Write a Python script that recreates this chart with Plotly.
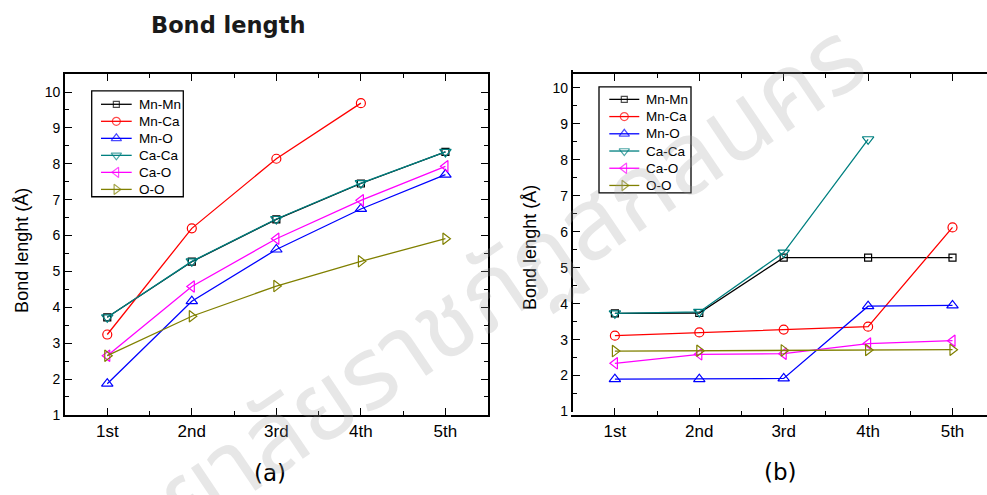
import plotly.graph_objects as go

categories = ["1st", "2nd", "3rd", "4th", "5th"]
series_names = ["Mn-Mn", "Mn-Ca", "Mn-O", "Ca-Ca", "Ca-O", "O-O"]

# Panel (a)
a_mn_mn = [3.72, 5.27, 6.45, 7.45, 8.33]
a_mn_ca = [3.24, 6.20, 8.14, 9.69, None]
a_mn_o = [1.87, 4.17, 5.61, 6.74, 7.70]
a_ca_ca = [3.72, 5.28, 6.46, 7.46, 8.33]
a_ca_o = [2.65, 4.58, 5.91, 6.98, 7.93]
a_o_o = [2.65, 3.75, 4.59, 5.28, 5.91]

# Panel (b)
b_mn_mn = [3.73, 3.74, 5.28, 5.28, 5.28]
b_mn_ca = [3.11, 3.20, 3.28, 3.36, 6.12]
b_mn_o = [1.90, 1.90, 1.92, 3.93, 3.95]
b_ca_ca = [3.73, 3.77, 5.42, 8.57, None]
b_ca_o = [2.34, 2.59, 2.61, 2.89, 2.97]
b_o_o = [2.68, 2.69, 2.70, 2.71, 2.72]

colors = ["#000000", "#FF0000", "#0000FF", "#008080", "#FF00FF", "#808000"]
symbols = ["square-open", "circle-open", "triangle-up-open", "triangle-down-open",
           "triangle-left-open", "triangle-right-open"]
sizes = [7, 9, 10, 10, 10, 10]
leg_sizes = [6, 8, 9, 9, 9, 9]

W, H = 987, 495
xpos = [1, 2, 3, 4, 5]

fig = go.Figure()
a_data = [a_mn_mn, a_mn_ca, a_mn_o, a_ca_ca, a_ca_o, a_o_o]
b_data = [b_mn_mn, b_mn_ca, b_mn_o, b_ca_ca, b_ca_o, b_o_o]

for xa, ya, data in [("x", "y", a_data), ("x2", "y2", b_data)]:
    for i, (name, ys) in enumerate(zip(series_names, data)):
        fig.add_trace(go.Scatter(x=xpos, y=ys, name=name, mode="lines+markers",
                                 line=dict(color=colors[i], width=1.3),
                                 marker=dict(symbol=symbols[i], size=sizes[i], color=colors[i],
                                             line=dict(width=1.2, color=colors[i])),
                                 xaxis=xa, yaxis=ya, showlegend=False))

# Manual legends (Origin style) on a pixel-coordinate overlay axis
legends = [
    dict(box=(91.7, 92.3, 183.3, 200), x0=101, x1=131.7, tx=136.7, y0=106, dy=17.3),
    dict(box=(599, 88.3, 691, 196), x0=609.3, x1=639.3, tx=644, y0=101, dy=17.5),
]
legfont = dict(family="Liberation Sans, Arial", size=13.5, color="#000")
for lg in legends:
    bx0, by0, bx1, by1 = lg["box"]
    fig.add_shape(type="rect", xref="x3", yref="y3", x0=bx0, y0=by0, x1=bx1, y1=by1,
                  line=dict(color="#000", width=1.3), fillcolor="rgba(0,0,0,0)", layer="above")
    for i, name in enumerate(series_names):
        yy = lg["y0"] + i * lg["dy"]
        fig.add_trace(go.Scatter(x=[lg["x0"], (lg["x0"] + lg["x1"]) / 2, lg["x1"]], y=[yy, yy, yy],
                                 mode="lines+markers",
                                 line=dict(color=colors[i], width=1.3),
                                 marker=dict(symbol=[symbols[i]] * 3, size=[0, leg_sizes[i], 0],
                                             color=colors[i], line=dict(width=1.2, color=colors[i])),
                                 xaxis="x3", yaxis="y3", showlegend=False, hoverinfo="skip"))
        fig.add_annotation(text=name, x=lg["tx"], y=yy, xref="x3", yref="y3", showarrow=False,
                           xanchor="left", yanchor="middle", font=legfont)

tickfont = dict(family="Liberation Sans, Arial", size=14, color="#000")
xtickfont = dict(family="Liberation Sans, Arial", size=17, color="#000")

def xax(domain, rng, mirror):
    return dict(domain=domain, range=rng, tickmode="array", tickvals=xpos, ticktext=categories,
                ticks="inside", ticklen=7, tickwidth=1.3, tickcolor="#000",
                showline=True, linecolor="#000", linewidth=1.6, mirror=mirror,
                showgrid=False, zeroline=False, tickfont=xtickfont,
                minor=dict(tickvals=[1.5, 2.5, 3.5, 4.5], ticks="inside", ticklen=4,
                           tickwidth=1.2, tickcolor="#000", showgrid=False))

def yax(domain, mirror, anchor):
    return dict(domain=domain, range=[1, 10.5], tickmode="linear", tick0=1, dtick=1,
                ticks="inside", ticklen=7, tickwidth=1.3, tickcolor="#000",
                showline=True, linecolor="#000", linewidth=1.6, mirror=mirror,
                showgrid=False, zeroline=False, tickfont=tickfont, anchor=anchor,
                minor=dict(dtick=0.5, tick0=1, ticks="inside", ticklen=4,
                           tickwidth=1.2, tickcolor="#000", showgrid=False))

fig.update_layout(
    width=W, height=H, margin=dict(l=0, r=0, t=0, b=0),
    paper_bgcolor="white", plot_bgcolor="rgba(0,0,0,0)",
    xaxis=xax([65 / W, 487.7 / W], [0.5, 5.5], "ticks"),
    yaxis=yax([(H - 421.7) / H, (H - 75.3) / H], "ticks", "x"),
    xaxis2=xax([572.7 / W, 1.0], [0.5, 0.5 + (W - 572.7) / 84.4], "ticks"),
    yaxis2=yax([(H - 418.3) / H, (H - 71) / H], False, "x2"),
    xaxis3=dict(domain=[0, 1], range=[0, W], visible=False, fixedrange=True),
    yaxis3=dict(domain=[0, 1], range=[H, 0], visible=False, fixedrange=True, anchor="x3"),
    showlegend=False,
)

fig.add_annotation(text="<b>Bond length</b>", x=228 / W, y=(H - 25) / H, xref="paper", yref="paper",
                   showarrow=False, font=dict(family="DejaVu Sans", size=22.5, color="#1a1a1a"),
                   xanchor="center", yanchor="middle")
fig.add_annotation(text="(a)", x=270 / W, y=(H - 481) / H, xref="paper", yref="paper",
                   showarrow=False, font=dict(family="DejaVu Sans", size=23, color="#000"),
                   xanchor="center", yanchor="middle")
fig.add_annotation(text="(b)", x=780 / W, y=(H - 480) / H, xref="paper", yref="paper",
                   showarrow=False, font=dict(family="DejaVu Sans", size=23, color="#000"),
                   xanchor="center", yanchor="middle")
for xp, yp in [(22, 255), (530, 252)]:
    fig.add_annotation(text="Bond lenght (Å)", x=xp / W, y=(H - yp) / H, xref="paper", yref="paper",
                       showarrow=False, textangle=-90,
                       font=dict(family="Liberation Sans, Arial", size=18, color="#000"),
                       xanchor="center", yanchor="middle")

# watermark
fig.add_annotation(text="มหาวิทยาลัยราชภัฏสกลนคร", x=400 / W, y=(H - 362) / H,
                   xref="paper", yref="paper", showarrow=False, textangle=-34,
                   font=dict(family="Noto Sans Thai, Noto Sans, sans-serif", size=100,
                             color="rgba(160,160,160,0.25)"),
                   xanchor="center", yanchor="middle")

fig.write_html("out.html")
